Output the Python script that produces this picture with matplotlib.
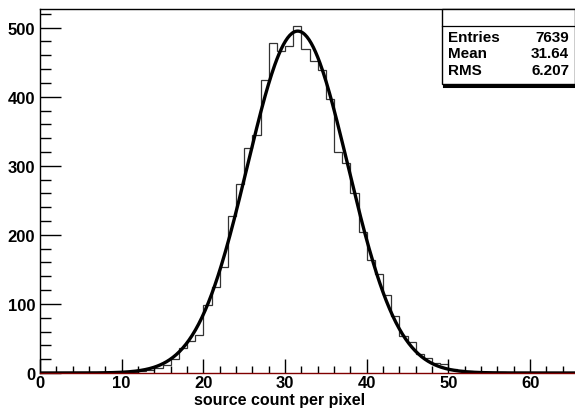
import numpy as np
import matplotlib
matplotlib.use("Agg")
import matplotlib.pyplot as plt
from matplotlib.ticker import MultipleLocator
from matplotlib.patches import Rectangle
from matplotlib.lines import Line2D

plt.rcParams['font.family'] = ['Liberation Sans', 'DejaVu Sans']
plt.rcParams['font.weight'] = 'bold'

# histograma: bins de ancho 1 desde 0 hasta 65
bin_edges = np.arange(0, 66, 1)
counts = [0, 0, 0, 0, 0, 0, 0, 0, 0, 0,
          1, 2, 3, 5, 7, 11, 20, 36, 46, 55,
          99, 125, 153, 227, 273, 326, 345, 424, 478, 466,
          473, 502, 469, 451, 438, 397, 320, 304, 261, 204,
          163, 144, 113, 83, 53, 45, 28, 22, 14, 13,
          6, 4, 3, 2, 1, 1, 1, 0, 0, 0,
          0, 0, 0, 0, 0]

# parametros del ajuste gaussiano
fit_amp = 495.0
fit_mean = 31.55
fit_sigma = 6.15

stat_names = ['Entries', 'Mean', 'RMS']
stat_values = ['7639', '31.64', '6.207']

W, H = 575, 410


def px(x, y):
    return x / W, 1 - y / H


fig = plt.figure(figsize=(W / 100, H / 100), dpi=100)
ax = fig.add_axes([40 / W, 36 / H, (W - 40) / W, (374 - 10) / H])

ax.stairs(counts, bin_edges, color='#333333', lw=0.9)

xf = np.linspace(0, 65.5, 500)
yf = fit_amp * np.exp(-0.5 * ((xf - fit_mean) / fit_sigma) ** 2)
ax.plot(xf, yf, color='black', lw=2.4, solid_capstyle='butt')

ax.set_xlim(0, 65.5)
ax.set_ylim(0, 527)

ax.xaxis.set_major_locator(MultipleLocator(10))
ax.xaxis.set_minor_locator(MultipleLocator(2))
ax.yaxis.set_major_locator(MultipleLocator(100))
ax.yaxis.set_minor_locator(MultipleLocator(20))

ax.tick_params(axis='x', which='major', direction='in', length=10, width=1, pad=1.5, labelsize=12)
ax.tick_params(axis='x', which='minor', direction='in', length=5, width=1)
ax.tick_params(axis='y', which='major', direction='in', length=15, width=1, pad=3.5, labelsize=12)
ax.tick_params(axis='y', which='minor', direction='in', length=8, width=1)
for lab in ax.get_xticklabels() + ax.get_yticklabels():
    lab.set_fontweight('bold')

ax.spines['right'].set_visible(False)
ax.spines['bottom'].set_color('#800000')
ax.spines['bottom'].set_linewidth(1.0)
ax.spines['left'].set_linewidth(1.0)
ax.spines['top'].set_linewidth(1.0)

fig.text(*px(280, 401), 'source count per pixel', ha='center', va='center',
         fontsize=11.5, fontweight='bold')

# caja de estadisticas
box = Rectangle(px(442, 85), (W - 442) / W, 75 / H, transform=fig.transFigure,
                facecolor='white', edgecolor='black', lw=1.0, zorder=5)
fig.add_artist(box)
fig.add_artist(Line2D([444 / W, 1], [1 - 86.5 / H] * 2, transform=fig.transFigure,
                      color='black', lw=2.2, zorder=6))
fig.add_artist(Line2D([442 / W, 1], [1 - 26.7 / H] * 2, transform=fig.transFigure,
                      color='black', lw=0.9, zorder=6))
for i, (name, val) in enumerate(zip(stat_names, stat_values)):
    y = 38 + i * 16.5
    fig.text(*px(448, y), name, ha='left', va='center', fontsize=11,
             fontweight='bold', zorder=7)
    fig.text(*px(569, y), val, ha='right', va='center', fontsize=11,
             fontweight='bold', zorder=7)

fig.savefig('out.png', dpi=100)
